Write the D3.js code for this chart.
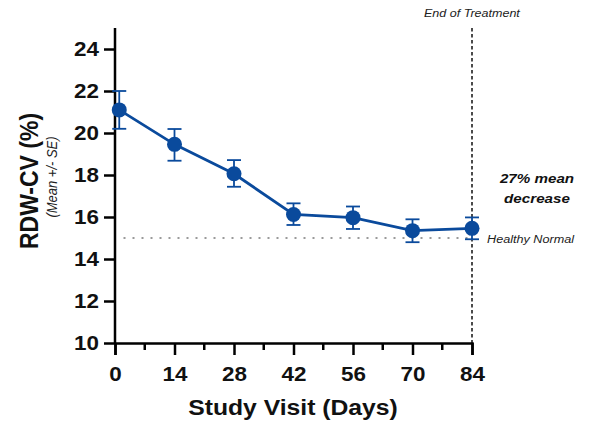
<!DOCTYPE html>
<html><head><meta charset="utf-8">
<script src="https://cdn.jsdelivr.net/npm/d3@7"></script>
<style>body{margin:0;background:#fff}svg{display:block}text{font-family:"Liberation Sans",Arial,sans-serif}</style>
</head><body><svg id="c" width="597" height="428"></svg>
<script>
const days = [1, 14, 28, 42, 56, 70, 84];
const means = [21.1, 19.46, 18.06, 16.12, 15.97, 15.35, 15.46];
const seHigh = [22.0, 20.19, 18.71, 16.65, 16.5, 15.89, 15.98];
const seLow = [20.2, 18.68, 17.44, 15.62, 15.43, 14.8, 14.94];
const xTicks = [0, 14, 28, 42, 56, 70, 84];
const xMinor = [7, 21, 35, 49, 63, 77];
const yTicks = [10, 12, 14, 16, 18, 20, 22, 24];
const healthyNormal = 15;
const endDay = 84;

const SX = 1.15; // horizontal stretch of the reference lettering
const svg = d3.select("#c");
const x = d3.scaleLinear().domain([0, 84]).range([115, 472]);
const y = d3.scaleLinear().domain([10, 25]).range([343, 28]);
const blue = "#0a4a9c";

function label(px, py, txt, opts, rotate) {
  const t = svg.append("text")
    .attr("transform", `translate(${px},${py}) scale(${SX},1)` + (rotate ? ` rotate(${rotate})` : ""))
    .attr("text-anchor", opts.anchor || "start")
    .attr("font-size", opts.size)
    .attr("font-weight", opts.weight || "normal")
    .attr("font-style", opts.style || "normal")
    .attr("fill", opts.fill || "#111");
  if (Array.isArray(txt)) {
    txt.forEach((s, i) => t.append("tspan").attr("x", 0).attr("y", i * opts.lh).text(s));
  } else t.text(txt);
  return t;
}

// healthy normal dotted line
svg.append("line").attr("x1", x(2)).attr("x2", x(84)).attr("y1", y(healthyNormal)).attr("y2", y(healthyNormal))
  .attr("stroke", "#9a9a9a").attr("stroke-width", 2.2).attr("stroke-dasharray", "2,7");
label(487, y(healthyNormal) + 4.5, "Healthy Normal", {size: 11, style: "italic", fill: "#222"});

// end of treatment dashed line
svg.append("line").attr("x1", x(endDay)).attr("x2", x(endDay)).attr("y1", 28).attr("y2", 343)
  .attr("stroke", "#111").attr("stroke-width", 1.5).attr("stroke-dasharray", "3.5,2.5");
label(424, 17, "End of Treatment", {size: 10.9, style: "italic", fill: "#222"});

// annotation
label(537, 183, ["27% mean", "decrease"], {size: 13.2, weight: "bold", style: "italic", anchor: "middle", lh: 20});

// axes
const yAxis = svg.append("g").attr("transform", "translate(115,0)")
  .call(d3.axisLeft(y).tickValues(yTicks).tickSize(11).tickPadding(5).tickFormat(d3.format("d")));
yAxis.select(".domain").attr("d", `M0,${y(25)}V${y(10)}`);
yAxis.selectAll(".tick text").attr("x", -16 / SX);
const xAxis = svg.append("g").attr("transform", "translate(0,343)")
  .call(d3.axisBottom(x).tickValues(xTicks).tickSize(12).tickPadding(12).tickFormat(d3.format("d")));
xAxis.selectAll(".minor").data(xMinor).enter().append("line").attr("class", "minor")
  .attr("x1", d => x(d)).attr("x2", d => x(d)).attr("y1", 0).attr("y2", 7).attr("stroke", "#000").attr("stroke-width", 2.5);
[yAxis, xAxis].forEach(g => {
  g.select(".domain").attr("stroke", "#000").attr("stroke-width", 2.5);
  g.selectAll(".tick line").attr("stroke", "#000").attr("stroke-width", 2.5);
  g.selectAll(".tick text").attr("transform", `scale(${SX},1)`)
    .attr("font-size", 19.5).attr("font-weight", "bold").attr("fill", "#111").attr("font-family", "'Liberation Sans',Arial,sans-serif");
});

// axis titles
label(293, 415, "Study Visit (Days)", {size: 21.5, weight: "bold", anchor: "middle"});
label(38, 181, "RDW-CV (%)", {size: 23, weight: "bold", anchor: "middle"}, -90);
label(57, 177, "(Mean +/- SE)", {size: 13, style: "italic", anchor: "middle", fill: "#222"}, -90);

// data
const pts = days.map((d, i) => ({d, m: means[i], hi: seHigh[i], lo: seLow[i]}));
svg.append("path").datum(pts).attr("fill", "none").attr("stroke", blue).attr("stroke-width", 2.8)
  .attr("d", d3.line().x(p => x(p.d)).y(p => y(p.m)));
const eb = svg.append("g").attr("stroke", blue).attr("stroke-width", 1.8);
pts.forEach(p => {
  eb.append("line").attr("x1", x(p.d)).attr("x2", x(p.d)).attr("y1", y(p.hi)).attr("y2", y(p.lo));
  eb.append("line").attr("x1", x(p.d) - 7).attr("x2", x(p.d) + 7).attr("y1", y(p.hi)).attr("y2", y(p.hi));
  eb.append("line").attr("x1", x(p.d) - 7).attr("x2", x(p.d) + 7).attr("y1", y(p.lo)).attr("y2", y(p.lo));
});
svg.append("g").selectAll("circle").data(pts).enter().append("circle")
  .attr("cx", p => x(p.d)).attr("cy", p => y(p.m)).attr("r", 7.5).attr("fill", blue);
</script></body></html>
